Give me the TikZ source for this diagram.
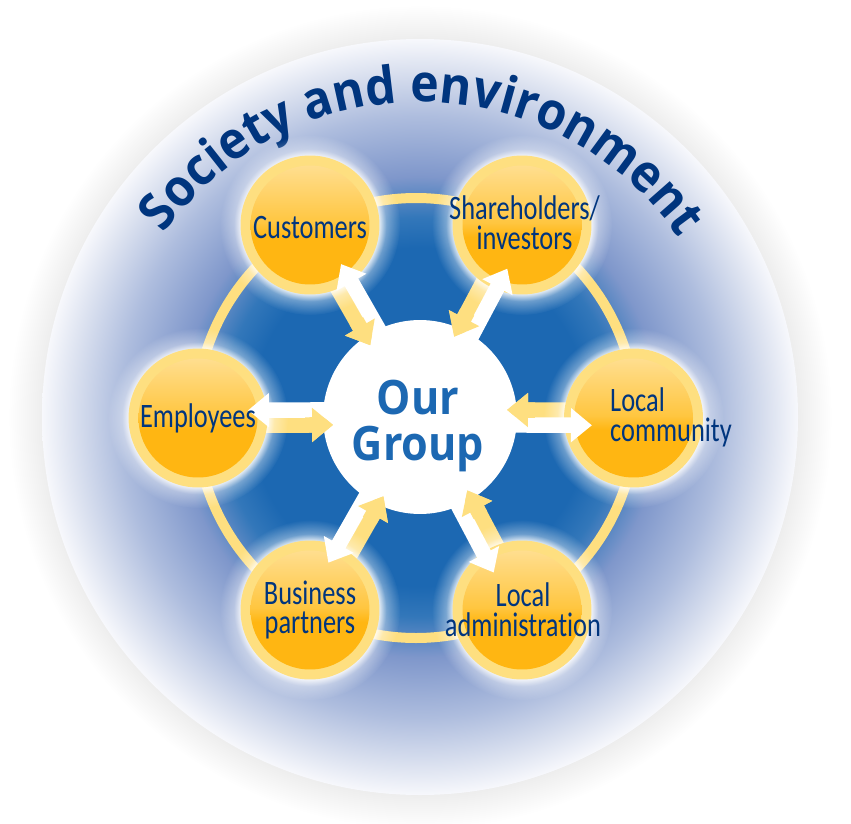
\documentclass[tikz,border=0pt]{standalone}
\usepackage{fontspec}
\usetikzlibrary{arrows.meta,calc,decorations.text,fadings}

\newfontfamily\labelfont[FakeStretch=0.77,Ligatures=NoCommon]{Carlito}
\newfontfamily\titlefont[FakeStretch=0.93]{Open Sans}[BoldFont=* Bold]
\newfontfamily\hubfont[FakeStretch=0.91]{Open Sans}[BoldFont=* Bold]

\definecolor{hubblue}{HTML}{1C68B2}
\definecolor{navytext}{HTML}{00357E}
\definecolor{ringyellow}{HTML}{FEDF80}
\definecolor{HaloB}{HTML}{7F97CB}
\definecolor{HaloC}{HTML}{AEBDDE}
\definecolor{HaloD}{HTML}{DCE2F0}
\definecolor{HaloE}{HTML}{F7F8FC}
\definecolor{GoldTop}{HTML}{FFDE8F}
\definecolor{GoldMid}{HTML}{FFC640}
\definecolor{GoldLow}{HTML}{FFB612}

\pgfdeclareradialshading{halo}{\pgfpointorigin}{color(0bp)=(black!7); color(22.9bp)=(black!7); color(25bp)=(white); color(50bp)=(white)}
\pgfdeclareradialshading{society}{\pgfpointorigin}{color(0bp)=(hubblue); color(11.2bp)=(hubblue); color(13.2bp)=(hubblue!90!white); color(15.9bp)=(HaloB); color(19.9bp)=(HaloC); color(23.1bp)=(HaloD); color(25bp)=(HaloE); color(50bp)=(HaloE)}
\pgfdeclareverticalshading{gold}{100bp}{color(0bp)=(GoldLow); color(45bp)=(GoldLow); color(51bp)=(GoldMid); color(75bp)=(GoldTop); color(100bp)=(GoldTop)}
\pgfdeclareradialshading{glowshade}{\pgfpointorigin}{color(0bp)=(pgftransparent!0); color(19.2bp)=(pgftransparent!15); color(21.1bp)=(pgftransparent!65); color(25bp)=(pgftransparent!100); color(50bp)=(pgftransparent!100)}
\pgfdeclarefading{glowfade}{\pgfuseshading{glowshade}}

\pgfdeclarelayer{back}
\pgfsetlayers{back,main}

\tikzset{
    stake/.style={circle, fill=ringyellow, minimum size=2.78cm, inner sep=0pt},
    stakein/.style={circle, shading=gold, minimum size=2.38cm, inner sep=0pt},
    stakelabel/.style={align=center, text=navytext, inner sep=0pt, font=\labelfont\fontsize{19.5}{17}\selectfont},
    hubnode/.style={circle, fill=white, minimum size=3.88cm, inner sep=0pt},
    hublabel/.style={align=center, text=hubblue, inner sep=0pt, font=\hubfont\bfseries\fontsize{27}{26}\selectfont},
    whitearrow/.style={draw=white, line width=0.31cm, -{Triangle[width=0.66cm,length=0.42cm,fill=white]}},
    yellowarrow/.style={draw=ringyellow, line width=0.31cm, -{Triangle[width=0.66cm,length=0.42cm,fill=ringyellow]}}
}

% stakeholder to group, group to stakeholder, second pass for the yellow head
\newcommand{\inarrow}[1]{\draw[yellowarrow] ($(hub)!3.3cm!(#1)!.15cm!90:(#1)$) -- ($(hub)!1.74cm!(#1)!.15cm!90:(#1)$);}
\newcommand{\outarrow}[1]{\draw[whitearrow] ($(hub)!1.6cm!(#1)!.15cm!-90:(#1)$) -- ($(hub)!3.44cm!(#1)!.15cm!-90:(#1)$);}
\newcommand{\inhead}[1]{\draw[yellowarrow] ($(hub)!2.3cm!(#1)!.15cm!90:(#1)$) -- ($(hub)!1.74cm!(#1)!.15cm!90:(#1)$);}
\newcommand{\glow}[1]{\fill[white, path fading=glowfade, fit fading=true] (#1) circle (90);}

\begin{document}
\begin{tikzpicture}[x=0.02cm, y=0.02cm]

    \useasboundingbox (0,0) rectangle (851,823);

    % Customers
    \node[stake] (cust) at (310,598) {};
    \node[stakein] (custin) at (cust) {};
    % Shareholders
    \node[stake] (share) at (522,598) {};
    \node[stakein] (sharein) at (share) {};
    % Local community
    \node[stake] (comm) at (633.5,405) {};
    \node[stakein] (commin) at (comm) {};
    % Local administration
    \node[stake] (admin) at (522,213) {};
    \node[stakein] (adminin) at (admin) {};
    % Business partners
    \node[stake] (biz) at (310,213) {};
    \node[stakein] (bizin) at (biz) {};
    % Employees
    \node[stake] (emp) at (198,405) {};
    \node[stakein] (empin) at (emp) {};

    \begin{pgfonlayer}{back}
        % Background
        \shade[shading=halo] (420,406) circle (412);
        \shade[shading=society] (420,406) circle (378);
        \path[decorate, decoration={text along path, text align=center,
            text={|\titlefont\bfseries\fontsize{29.5}{29}\selectfont\color{navytext}|Society and environment}}]
            (420,406) ++(147:315) arc (147:32:315);

        % Group
        \node[hubnode] (hub) at (420,406) {};
        \node[hublabel] (hubtext) at (418,397) {Our\\Group};

        % Ring
        \coordinate (ringc) at (416,405);
        \draw[ringyellow, line width=0.2cm] (ringc) circle (220);

        % Yellow connectors
        \inarrow{cust} \inarrow{share} \inarrow{comm}
        \inarrow{admin} \inarrow{biz} \inarrow{emp}

        % Glow
        \glow{cust} \glow{share} \glow{comm}
        \glow{admin} \glow{biz} \glow{emp}
    \end{pgfonlayer}

    % White connectors
    \outarrow{cust} \outarrow{share} \outarrow{comm}
    \outarrow{admin} \outarrow{biz} \outarrow{emp}
    \inhead{cust} \inhead{share} \inhead{comm}
    \inhead{admin} \inhead{biz} \inhead{emp}

    % Labels
    \node[stakelabel] (custtext) at (310,595) {Customers};
    \node[stakelabel] (sharetext) at (524.5,600) {Shareholders/\\investors};
    \node[stakelabel, align=left] (commtext) at (671,406) {Local\\community};
    \node[stakelabel] (admintext) at (523,213) {Local\\administration};
    \node[stakelabel] (biztext) at (310,213) {Business\\partners};
    \node[stakelabel] (emptext) at (198,405) {Employees};

\end{tikzpicture}
\end{document}
